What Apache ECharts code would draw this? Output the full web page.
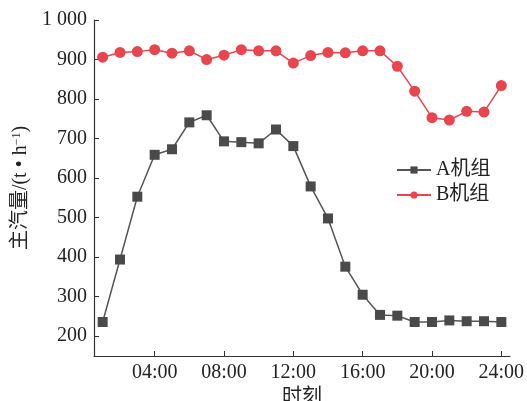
<!DOCTYPE html>
<html>
<head>
<meta charset="utf-8">
<script src="https://cdn.jsdelivr.net/npm/echarts@6/dist/echarts.min.js"></script>
<style>
  html, body { margin: 0; padding: 0; background: #fff; }
  #chart { width: 527px; height: 401px; }
</style>
</head>
<body>
<div id="chart"></div>
<script>
// 数据
const hours = [1, 2, 3, 4, 5, 6, 7, 8, 9, 10, 11, 12, 13, 14, 15, 16, 17, 18, 19, 20, 21, 22, 23, 24]
const unitA = [236, 394, 553, 659, 673, 741, 759, 693, 691, 688, 723, 681, 579, 498, 376, 305, 254, 252, 236, 236, 240, 238, 238, 236]
const unitB = [906, 918, 920, 925, 916, 922, 900, 911, 925, 922, 922, 891, 910, 918, 917, 922, 922, 883, 820, 753, 747, 769, 767, 834]
const xTicks = [4, 8, 12, 16, 20, 24]
const yTicks = [200, 300, 400, 500, 600, 700, 800, 900, 1000]

const serif = '"Liberation Serif", "Noto Sans CJK SC", serif'
const axisColor = '#333'

const chart = echarts.init(document.getElementById('chart'))
const option = {
  animation: false,
  textStyle: { fontFamily: serif },
  grid: {
    left: 94,
    right: 17,
    top: 20,
    bottom: 45,
    outerBoundsMode: 'none'
  },
  legend: {
    left: 391,
    top: 155,
    orient: 'vertical',
    itemWidth: 34,
    itemHeight: 9,
    itemGap: 5,
    textStyle: { fontFamily: serif, fontSize: 20, color: '#222' }
  },
  xAxis: {
    type: 'value',
    min: 0.5,
    max: 24.5,
    name: '时刻',
    nameLocation: 'middle',
    nameGap: 26,
    nameTextStyle: { fontFamily: serif, fontSize: 20, color: '#222' },
    splitLine: { show: false },
    axisLine: { lineStyle: { color: axisColor, width: 1.2 } },
    axisTick: {
      inside: true,
      length: 5,
      customValues: xTicks,
      lineStyle: { color: axisColor }
    },
    axisLabel: {
      customValues: xTicks,
      margin: 7,
      fontSize: 20,
      color: '#222',
      formatter: (v) => String(v).padStart(2, '0') + ':00'
    }
  },
  yAxis: {
    type: 'value',
    min: 150,
    max: 1000,
    name: '主汽量/(t • h{sup|−1})',
    nameLocation: 'middle',
    nameGap: 63,
    nameTextStyle: {
      fontFamily: serif,
      fontSize: 20,
      color: '#222',
      rich: {
        sup: { fontFamily: serif, fontSize: 12, verticalAlign: 'top', color: '#222' }
      }
    },
    splitLine: { show: false },
    axisLine: { show: true, lineStyle: { color: axisColor, width: 1.2 } },
    axisTick: {
      show: true,
      inside: true,
      length: 5,
      customValues: yTicks,
      lineStyle: { color: axisColor }
    },
    axisLabel: {
      customValues: yTicks,
      margin: 7,
      fontSize: 20,
      color: '#222',
      formatter: (v) => (v >= 1000 ? '1 000' : String(v))
    }
  },
  series: [
    {
      name: 'A机组',
      type: 'line',
      data: hours.map((h, i) => [h, unitA[i]]),
      symbol: 'rect',
      symbolSize: 10,
      lineStyle: { color: '#555', width: 1.5 },
      itemStyle: { color: '#4a4a4a' }
    },
    {
      name: 'B机组',
      type: 'line',
      data: hours.map((h, i) => [h, unitB[i]]),
      symbol: 'circle',
      symbolSize: 11,
      lineStyle: { color: '#e8454f', width: 1.5 },
      itemStyle: { color: '#e8454f' }
    }
  ]
}
chart.setOption(option)
</script>
</body>
</html>
